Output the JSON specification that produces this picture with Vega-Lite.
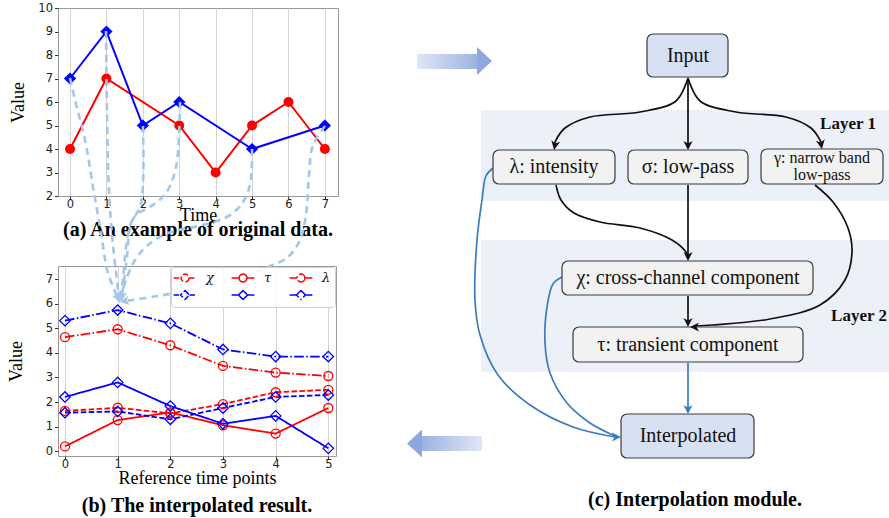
{
  "$schema": "https://vega.github.io/schema/vega-lite/v6.json",
  "autosize": {"type": "pad"},
  "padding": {"left": 6, "top": 1, "right": 0, "bottom": 0},
  "background": "white",
  "spacing": 64,
  "resolve": {"scale": {"color": "independent", "fill": "independent", "shape": "independent", "size": "independent", "strokeDash": "independent", "x": "independent", "y": "independent"}},
  "datasets": {
    "orig": [
      {"s": "s1", "t": 0, "v": 4}, {"s": "s1", "t": 1, "v": 7}, {"s": "s1", "t": 3, "v": 5}, {"s": "s1", "t": 4, "v": 3},
      {"s": "s1", "t": 5, "v": 5}, {"s": "s1", "t": 6, "v": 6}, {"s": "s1", "t": 7, "v": 4},
      {"s": "s2", "t": 0, "v": 7}, {"s": "s2", "t": 1, "v": 9}, {"s": "s2", "t": 2, "v": 5}, {"s": "s2", "t": 3, "v": 6},
      {"s": "s2", "t": 5, "v": 4}, {"s": "s2", "t": 7, "v": 5}
    ],
    "curves": [
      {"c": 1, "i": 0, "t": 0.095, "v": 15.169}, {"c": 1, "i": 1, "t": 0.19, "v": 14.275}, {"c": 1, "i": 2, "t": 0.38, "v": 12.65}, {"c": 1, "i": 3, "t": 0.532, "v": 10.74}, {"c": 1, "i": 4, "t": 0.684, "v": 8.871}, {"c": 1, "i": 5, "t": 0.816, "v": 7.246}, {"c": 1, "i": 6, "t": 1.006, "v": 6.23},
      {"c": 2, "i": 0, "t": 0.779, "v": 17.079}, {"c": 2, "i": 1, "t": 0.797, "v": 13.869}, {"c": 2, "i": 2, "t": 0.835, "v": 10.618}, {"c": 2, "i": 3, "t": 0.911, "v": 8.383}, {"c": 2, "i": 4, "t": 1.025, "v": 6.27},
      {"c": 3, "i": 0, "t": 1.481, "v": 13.219}, {"c": 3, "i": 1, "t": 1.481, "v": 10.903}, {"c": 3, "i": 2, "t": 1.424, "v": 9.927}, {"c": 3, "i": 3, "t": 1.253, "v": 9.277}, {"c": 3, "i": 4, "t": 1.158, "v": 8.302}, {"c": 3, "i": 5, "t": 1.101, "v": 6.961}, {"c": 3, "i": 6, "t": 1.044, "v": 6.27},
      {"c": 4, "i": 0, "t": 2.184, "v": 14.194}, {"c": 4, "i": 1, "t": 2.108, "v": 11.553}, {"c": 4, "i": 2, "t": 1.918, "v": 10.496}, {"c": 4, "i": 3, "t": 1.614, "v": 9.927}, {"c": 4, "i": 4, "t": 1.348, "v": 9.602}, {"c": 4, "i": 5, "t": 1.234, "v": 9.074}, {"c": 4, "i": 6, "t": 1.177, "v": 7.896}, {"c": 4, "i": 7, "t": 1.082, "v": 6.311},
      {"c": 5, "i": 0, "t": 3.551, "v": 12.284}, {"c": 5, "i": 1, "t": 3.513, "v": 10.821}, {"c": 5, "i": 2, "t": 3.342, "v": 10.009}, {"c": 5, "i": 3, "t": 3.038, "v": 9.48}, {"c": 5, "i": 4, "t": 2.526, "v": 9.155}, {"c": 5, "i": 5, "t": 1.956, "v": 8.871}, {"c": 5, "i": 6, "t": 1.576, "v": 8.383}, {"c": 5, "i": 7, "t": 1.329, "v": 7.774}, {"c": 5, "i": 8, "t": 1.158, "v": 6.961}, {"c": 5, "i": 9, "t": 1.063, "v": 6.311},
      {"c": 6, "i": 0, "t": 4.937, "v": 13.219}, {"c": 6, "i": 1, "t": 4.709, "v": 12.447}, {"c": 6, "i": 2, "t": 4.633, "v": 11.228}, {"c": 6, "i": 3, "t": 4.576, "v": 9.602}, {"c": 6, "i": 4, "t": 4.462, "v": 8.586}, {"c": 6, "i": 5, "t": 4.235, "v": 7.896}, {"c": 6, "i": 6, "t": 3.855, "v": 7.489}, {"c": 6, "i": 7, "t": 3.38, "v": 7.083}, {"c": 6, "i": 8, "t": 2.62, "v": 6.677}, {"c": 6, "i": 9, "t": 1.766, "v": 6.311}, {"c": 6, "i": 10, "t": 1.139, "v": 6.108}
    ],
    "heads": [
      {"t": 1.006, "v": 6.23, "rot": -22}, {"t": 1.025, "v": 6.27, "rot": -7}, {"t": 1.044, "v": 6.27, "rot": 10},
      {"t": 1.082, "v": 6.311, "rot": 7}, {"t": 1.063, "v": 6.311, "rot": 17}, {"t": 1.139, "v": 6.108, "rot": 80}
    ],
    "interp": [
      {"series": "χ", "t": 0, "v": 1.64}, {"series": "χ", "t": 1, "v": 1.77}, {"series": "χ", "t": 2, "v": 1.54}, {"series": "χ", "t": 3, "v": 1.92}, {"series": "χ", "t": 4, "v": 2.4}, {"series": "χ", "t": 5, "v": 2.5},
      {"series": "τ", "t": 0, "v": 0.2}, {"series": "τ", "t": 1, "v": 1.27}, {"series": "τ", "t": 2, "v": 1.58}, {"series": "τ", "t": 3, "v": 1.06}, {"series": "τ", "t": 4, "v": 0.72}, {"series": "τ", "t": 5, "v": 1.76},
      {"series": "λ", "t": 0, "v": 4.64}, {"series": "λ", "t": 1, "v": 4.96}, {"series": "λ", "t": 2, "v": 4.31}, {"series": "λ", "t": 3, "v": 3.47}, {"series": "λ", "t": 4, "v": 3.2}, {"series": "λ", "t": 5, "v": 3.06},
      {"series": "χb", "t": 0, "v": 1.57}, {"series": "χb", "t": 1, "v": 1.62}, {"series": "χb", "t": 2, "v": 1.3}, {"series": "χb", "t": 3, "v": 1.76}, {"series": "χb", "t": 4, "v": 2.21}, {"series": "χb", "t": 5, "v": 2.29},
      {"series": "τb", "t": 0, "v": 2.21}, {"series": "τb", "t": 1, "v": 2.8}, {"series": "τb", "t": 2, "v": 1.84}, {"series": "τb", "t": 3, "v": 1.12}, {"series": "τb", "t": 4, "v": 1.44}, {"series": "τb", "t": 5, "v": 0.12},
      {"series": "λb", "t": 0, "v": 5.31}, {"series": "λb", "t": 1, "v": 5.74}, {"series": "λb", "t": 2, "v": 5.2}, {"series": "λb", "t": 3, "v": 4.14}, {"series": "λb", "t": 4, "v": 3.85}, {"series": "λb", "t": 5, "v": 3.85}
    ],
    "bands": [
      {"x": 481, "x2": 892, "y": 110, "y2": 201},
      {"x": 481, "x2": 892, "y": 240, "y2": 372}
    ],
    "nodes": [
      {"name": "Input", "k": "io", "x": 647, "x2": 728, "y": 34, "y2": 77},
      {"name": "λ", "k": "op", "x": 493, "x2": 615, "y": 150, "y2": 184},
      {"name": "σ", "k": "op", "x": 628, "x2": 748, "y": 150, "y2": 184},
      {"name": "γ", "k": "op", "x": 761, "x2": 883, "y": 149, "y2": 184},
      {"name": "χ", "k": "op", "x": 562, "x2": 813, "y": 261, "y2": 295},
      {"name": "τ", "k": "op", "x": 573, "x2": 803, "y": 327, "y2": 362},
      {"name": "Interpolated", "k": "io", "x": 621, "x2": 754, "y": 414, "y2": 458}
    ],
    "labels": [
      {"text": "Input", "x": 688, "y": 56},
      {"text": "λ: intensity", "x": 554, "y": 167},
      {"text": "σ: low-pass", "x": 688, "y": 167},
      {"text": "χ: cross-channel component", "x": 688, "y": 278},
      {"text": "τ: transient component", "x": 688, "y": 345},
      {"text": "Interpolated", "x": 688, "y": 436}
    ],
    "small": [
      {"text": "γ: narrow band", "x": 822, "y": 158},
      {"text": "low-pass", "x": 822, "y": 175}
    ],
    "layers": [
      {"text": "Layer 1", "x": 848, "y": 124},
      {"text": "Layer 2", "x": 859, "y": 316}
    ],
    "edges": [
      {"e": 1, "k": "flow", "i": 0, "x": 688, "y": 78}, {"e": 1, "k": "flow", "i": 1, "x": 676, "y": 101}, {"e": 1, "k": "flow", "i": 2, "x": 640, "y": 112}, {"e": 1, "k": "flow", "i": 3, "x": 590, "y": 117}, {"e": 1, "k": "flow", "i": 4, "x": 565, "y": 128}, {"e": 1, "k": "flow", "i": 5, "x": 556, "y": 140}, {"e": 1, "k": "flow", "i": 6, "x": 554, "y": 146},
      {"e": 2, "k": "flow", "i": 0, "x": 688, "y": 78}, {"e": 2, "k": "flow", "i": 1, "x": 688, "y": 146},
      {"e": 3, "k": "flow", "i": 0, "x": 688, "y": 78}, {"e": 3, "k": "flow", "i": 1, "x": 700, "y": 101}, {"e": 3, "k": "flow", "i": 2, "x": 736, "y": 112}, {"e": 3, "k": "flow", "i": 3, "x": 786, "y": 117}, {"e": 3, "k": "flow", "i": 4, "x": 811, "y": 128}, {"e": 3, "k": "flow", "i": 5, "x": 820, "y": 140}, {"e": 3, "k": "flow", "i": 6, "x": 822, "y": 145},
      {"e": 4, "k": "flow", "i": 0, "x": 556, "y": 185}, {"e": 4, "k": "flow", "i": 1, "x": 561, "y": 200}, {"e": 4, "k": "flow", "i": 2, "x": 574, "y": 213}, {"e": 4, "k": "flow", "i": 3, "x": 600, "y": 222}, {"e": 4, "k": "flow", "i": 4, "x": 640, "y": 228}, {"e": 4, "k": "flow", "i": 5, "x": 672, "y": 240}, {"e": 4, "k": "flow", "i": 6, "x": 686, "y": 252}, {"e": 4, "k": "flow", "i": 7, "x": 688, "y": 257},
      {"e": 5, "k": "flow", "i": 0, "x": 688, "y": 185}, {"e": 5, "k": "flow", "i": 1, "x": 688, "y": 257},
      {"e": 6, "k": "flow", "i": 0, "x": 815, "y": 185}, {"e": 6, "k": "flow", "i": 1, "x": 833, "y": 202}, {"e": 6, "k": "flow", "i": 2, "x": 848, "y": 228}, {"e": 6, "k": "flow", "i": 3, "x": 852, "y": 252}, {"e": 6, "k": "flow", "i": 4, "x": 845, "y": 280}, {"e": 6, "k": "flow", "i": 5, "x": 820, "y": 305}, {"e": 6, "k": "flow", "i": 6, "x": 770, "y": 319}, {"e": 6, "k": "flow", "i": 7, "x": 712, "y": 325}, {"e": 6, "k": "flow", "i": 8, "x": 696, "y": 326},
      {"e": 7, "k": "flow", "i": 0, "x": 688, "y": 296}, {"e": 7, "k": "flow", "i": 1, "x": 688, "y": 322},
      {"e": 8, "k": "out", "i": 0, "x": 688, "y": 363}, {"e": 8, "k": "out", "i": 1, "x": 688, "y": 409},
      {"e": 9, "k": "out", "i": 0, "x": 493, "y": 168}, {"e": 9, "k": "out", "i": 1, "x": 486, "y": 176}, {"e": 9, "k": "out", "i": 2, "x": 482, "y": 200}, {"e": 9, "k": "out", "i": 3, "x": 477, "y": 240}, {"e": 9, "k": "out", "i": 4, "x": 475, "y": 300}, {"e": 9, "k": "out", "i": 5, "x": 480, "y": 335}, {"e": 9, "k": "out", "i": 6, "x": 498, "y": 375}, {"e": 9, "k": "out", "i": 7, "x": 530, "y": 405}, {"e": 9, "k": "out", "i": 8, "x": 573, "y": 427}, {"e": 9, "k": "out", "i": 9, "x": 615, "y": 437},
      {"e": 10, "k": "out", "i": 0, "x": 562, "y": 277}, {"e": 10, "k": "out", "i": 1, "x": 553, "y": 284}, {"e": 10, "k": "out", "i": 2, "x": 547, "y": 307}, {"e": 10, "k": "out", "i": 3, "x": 545, "y": 343}, {"e": 10, "k": "out", "i": 4, "x": 550, "y": 373}, {"e": 10, "k": "out", "i": 5, "x": 567, "y": 403}, {"e": 10, "k": "out", "i": 6, "x": 590, "y": 423}, {"e": 10, "k": "out", "i": 7, "x": 615, "y": 436}
    ],
    "tips": [
      {"k": "flow", "x": 555, "y": 145, "rot": 10},
      {"k": "flow", "x": 688, "y": 145, "rot": 0},
      {"k": "flow", "x": 821, "y": 144, "rot": -10},
      {"k": "flow", "x": 688, "y": 256, "rot": 0},
      {"k": "flow", "x": 688, "y": 322, "rot": 0},
      {"k": "flow", "x": 695, "y": 327, "rot": 90},
      {"k": "out", "x": 688, "y": 409, "rot": 0},
      {"k": "out", "x": 616, "y": 437, "rot": -90}
    ]
  },
  "hconcat": [
    {
      "vconcat": [
        {
          "width": 280,
          "height": 188,
          "view": {"stroke": "#999999", "strokeWidth": 1},
          "title": {"text": "(a) An example of original data.", "orient": "bottom", "offset": -5},
          "encoding": {
            "x": {"field": "t", "type": "quantitative", "scale": {"domain": [-0.33, 7.36], "nice": false, "zero": false},
                  "axis": {"values": [0, 1, 2, 3, 4, 5, 6, 7], "title": "Time", "titleFontSize": 18, "titlePadding": -3, "grid": true, "tickSize": 3, "labelPadding": -1, "labelOverlap": false}},
            "y": {"field": "v", "type": "quantitative", "scale": {"domain": [2, 10], "nice": false, "zero": false},
                  "axis": {"values": [2, 3, 4, 5, 6, 7, 8, 9, 10], "title": "Value", "titleFontSize": 18, "titlePadding": 10, "grid": false, "labelOverlap": false}}
          },
          "layer": [
            {
              "data": {"values": [{"v": 4.5}, {"v": 7.5}]},
              "mark": {"type": "rule", "color": "#d4d4d4", "strokeWidth": 1},
              "encoding": {
                "x": {"datum": -0.33, "type": "quantitative",
                      "axis": {"values": [0, 1, 2, 3, 4, 5, 6, 7], "title": "Time", "titleFontSize": 18, "titlePadding": -3, "grid": true, "tickSize": 3, "labelPadding": -1, "labelOverlap": false}},
                "x2": {"datum": 7.36}
              }
            },
            {
              "data": {"name": "orig"},
              "mark": {"type": "line", "strokeWidth": 2},
              "encoding": {
                "color": {"field": "s", "type": "nominal", "scale": {"domain": ["s1", "s2"], "range": ["#ff0000", "#0000ff"]}, "legend": null}
              }
            },
            {
              "data": {"name": "orig"},
              "transform": [{"filter": "datum.s == 's1'"}],
              "mark": {"type": "point", "filled": true, "opacity": 1, "shape": "circle", "size": 100},
              "encoding": {"color": {"field": "s", "type": "nominal", "legend": null}}
            },
            {
              "data": {"name": "orig"},
              "transform": [{"filter": "datum.s == 's2'"}],
              "mark": {"type": "point", "filled": true, "opacity": 1, "shape": "diamond", "size": 150},
              "encoding": {"color": {"field": "s", "type": "nominal", "legend": null}}
            }
          ]
        },
        {
          "width": 278,
          "height": 190,
          "view": {"stroke": "#999999", "strokeWidth": 1},
          "title": {"text": "(b) The interpolated result.", "orient": "bottom", "offset": 8},
          "encoding": {
            "x": {"field": "t", "type": "quantitative", "scale": {"domain": [-0.133, 5.146], "nice": false, "zero": false},
                  "axis": {"values": [0, 1, 2, 3, 4, 5], "title": "Reference time points", "titleFontSize": 18, "titlePadding": 0, "grid": true, "tickSize": 3, "labelPadding": -1, "labelOverlap": false}},
            "y": {"field": "v", "type": "quantitative", "scale": {"domain": [-0.19, 7.53], "nice": false, "zero": false},
                  "axis": {"values": [0, 1, 2, 3, 4, 5, 6, 7], "title": "Value", "titleFontSize": 18, "titlePadding": 20, "grid": false, "labelOverlap": false}}
          },
          "layer": [
            {
              "data": {"values": [{"v": 4.5}]},
              "mark": {"type": "rule", "color": "#d4d4d4", "strokeWidth": 1},
              "encoding": {
                "x": {"datum": -0.133, "type": "quantitative",
                      "axis": {"values": [0, 1, 2, 3, 4, 5], "title": "Reference time points", "titleFontSize": 18, "titlePadding": 0, "grid": true, "tickSize": 3, "labelPadding": -1, "labelOverlap": false}},
                "x2": {"datum": 5.146}
              }
            },
            {
              "data": {"name": "interp"},
              "mark": {"type": "line", "strokeWidth": 1.8},
              "encoding": {
                "color": {"field": "series", "type": "nominal",
                          "scale": {"domain": ["χ", "τ", "λ", "χb", "τb", "λb"], "range": ["#ff0000", "#ff0000", "#ff0000", "#0000ff", "#0000ff", "#0000ff"]},
                          "legend": {"orient": "top-right", "offset": 1, "columns": 3, "direction": "horizontal", "title": null,
                                     "labelExpr": "length(datum.value) > 1 ? '' : datum.value",
                                     "symbolType": "M-1.9,0L-0.65,0M0.65,0L1.9,0M0.65,0A0.65,0.65,0,1,1,-0.65,0A0.65,0.65,0,1,1,0.65,0",
                                     "symbolSize": 144, "symbolStrokeWidth": 1.5, "symbolFillColor": "transparent",
                                     "labelOffset": 14, "symbolOffset": 3, "columnPadding": 14, "rowPadding": 2, "padding": 4,
                                     "fillColor": "rgba(255,255,255,0.85)", "strokeColor": "#d0d0d0", "cornerRadius": 3,
                                     "labelFont": "DejaVu Serif", "labelFontStyle": "italic", "labelFontSize": 13, "labelColor": "#111",
                                     "encode": {"symbols": {"update": {"shape": {"signal": "length(datum.value) > 1 ? 'M-1.9,0L-0.75,0M0.75,0L1.9,0M0,-0.75L0.75,0L0,0.75L-0.75,0Z' : 'M-1.9,0L-0.65,0M0.65,0L1.9,0M0.65,0A0.65,0.65,0,1,1,-0.65,0A0.65,0.65,0,1,1,0.65,0'"}}}}}},
                "strokeDash": {"field": "series", "type": "nominal",
                               "scale": {"domain": ["χ", "τ", "λ", "χb", "τb", "λb"], "range": [[5.5, 2.4], [1, 0], [9.6, 2.4, 1.5, 2.4], [5.5, 2.4], [1, 0], [9.6, 2.4, 1.5, 2.4]]}}
              }
            },
            {
              "data": {"name": "interp"},
              "transform": [{"filter": "length(datum.series) == 1"}],
              "mark": {"type": "point", "filled": false, "strokeWidth": 1.3, "opacity": 1, "shape": "circle", "size": 81},
              "encoding": {"color": {"field": "series", "type": "nominal"}}
            },
            {
              "data": {"name": "interp"},
              "transform": [{"filter": "length(datum.series) > 1"}],
              "mark": {"type": "point", "filled": false, "strokeWidth": 1.3, "opacity": 1, "shape": "diamond", "size": 110},
              "encoding": {"color": {"field": "series", "type": "nominal"}}
            },
            {
              "data": {"name": "curves"},
              "mark": {"type": "line", "strokeDash": [7, 5], "strokeWidth": 2.6, "color": "#a2c7ea", "interpolate": "catmull-rom", "clip": false},
              "encoding": {
                "detail": {"field": "c", "type": "nominal"},
                "order": {"field": "i", "type": "quantitative"}
              }
            },
            {
              "data": {"name": "heads"},
              "mark": {"type": "point", "filled": true, "color": "#a2c7ea", "opacity": 1, "size": 110, "shape": "M0,1L-0.9,-0.8L0,-0.3L0.9,-0.8Z", "clip": false},
              "encoding": {
                "angle": {"field": "rot", "type": "quantitative", "scale": null}
              }
            }
          ]
        }
      ],
      "spacing": 70,
      "bounds": "flush",
      "resolve": {"scale": {"color": "independent", "shape": "independent", "size": "independent", "strokeDash": "independent", "x": "independent", "y": "independent"}}
    },
    {
      "width": 489,
      "height": 517,
      "view": {"stroke": null},
      "encoding": {
        "x": {"field": "x", "type": "quantitative", "scale": {"domain": [403, 892], "nice": false, "zero": false}, "axis": null},
        "y": {"field": "y", "type": "quantitative", "scale": {"domain": [8, 525], "reverse": true, "nice": false, "zero": false}, "axis": null}
      },
      "layer": [
        {
          "data": {"name": "bands"},
          "mark": {"type": "rect", "color": "#ecf0f8"},
          "encoding": {"x2": {"field": "x2"}, "y2": {"field": "y2"}}
        },
        {
          "data": {"name": "edges"},
          "mark": {"type": "line", "strokeWidth": 1.7, "interpolate": "catmull-rom"},
          "encoding": {
            "detail": {"field": "e", "type": "nominal"},
            "order": {"field": "i", "type": "quantitative"},
            "color": {"field": "k", "type": "nominal", "scale": {"domain": ["flow", "out"], "range": ["#111111", "#3a7cc0"]}, "legend": null}
          }
        },
        {
          "data": {"name": "nodes"},
          "mark": {"type": "rect", "cornerRadius": 6, "stroke": "#3a3a3a", "strokeWidth": 1.2},
          "encoding": {
            "x2": {"field": "x2"},
            "y2": {"field": "y2"},
            "fill": {"field": "k", "type": "nominal", "scale": {"domain": ["io", "op"], "range": ["#d8e1f2", "#f2f2f2"]}, "legend": null}
          }
        },
        {
          "data": {"name": "labels"},
          "mark": {"type": "text", "font": "Liberation Serif", "fontSize": 20, "color": "#111", "baseline": "middle", "align": "center"},
          "encoding": {"text": {"field": "text"}}
        },
        {
          "data": {"name": "small"},
          "mark": {"type": "text", "font": "Liberation Serif", "fontSize": 16, "color": "#111", "baseline": "middle", "align": "center"},
          "encoding": {"text": {"field": "text"}}
        },
        {
          "data": {"name": "layers"},
          "mark": {"type": "text", "font": "Liberation Serif", "fontSize": 17, "fontWeight": "bold", "color": "#111", "baseline": "middle", "align": "center"},
          "encoding": {"text": {"field": "text"}}
        },
        {
          "data": {"values": [{"text": "(c) Interpolation module.", "x": 695, "y": 500}]},
          "mark": {"type": "text", "font": "Liberation Serif", "fontSize": 20, "fontWeight": "bold", "color": "#000", "baseline": "middle", "align": "center"},
          "encoding": {"text": {"field": "text"}}
        },
        {
          "data": {"name": "tips"},
          "mark": {"type": "point", "filled": true, "opacity": 1, "size": 100, "shape": "M0,1L-0.9,-0.8L0,-0.3L0.9,-0.8Z"},
          "encoding": {
            "angle": {"field": "rot", "type": "quantitative", "scale": null},
            "color": {"field": "k", "type": "nominal", "legend": null}
          }
        },
        {
          "data": {"values": [{"x": 417, "x2": 478, "y": 54, "y2": 69}]},
          "mark": {"type": "rect", "fill": {"gradient": "linear", "x1": 0, "y1": 0, "x2": 1, "y2": 0, "stops": [{"offset": 0, "color": "#e0e7f5"}, {"offset": 1, "color": "#9cb1e2"}]}},
          "encoding": {"x2": {"field": "x2"}, "y2": {"field": "y2"}}
        },
        {
          "data": {"values": [{"x": 421, "x2": 482, "y": 436, "y2": 451}]},
          "mark": {"type": "rect", "fill": {"gradient": "linear", "x1": 0, "y1": 0, "x2": 1, "y2": 0, "stops": [{"offset": 0, "color": "#9cb1e2"}, {"offset": 1, "color": "#e0e7f5"}]}},
          "encoding": {"x2": {"field": "x2"}, "y2": {"field": "y2"}}
        },
        {
          "data": {"values": [{"x": 484.5, "y": 61}]},
          "mark": {"type": "point", "filled": true, "opacity": 1, "color": "#8fa7de", "size": 225, "shape": "M-1,-1.87L1,0L-1,1.87Z"}
        },
        {
          "data": {"values": [{"x": 414.5, "y": 443.5}]},
          "mark": {"type": "point", "filled": true, "opacity": 1, "color": "#8fa7de", "size": 225, "shape": "M1,-1.87L-1,0L1,1.87Z"}
        }
      ]
    }
  ],
  "config": {
    "view": {"stroke": null},
    "axis": {"labelFont": "DejaVu Sans", "labelFontSize": 11.5, "labelColor": "#222222", "titleFont": "Liberation Serif", "titleFontWeight": "normal", "titleColor": "#000000", "tickColor": "#333333", "tickSize": 3.5, "domain": false, "gridColor": "#d4d4d4", "gridWidth": 1},
    "title": {"font": "Liberation Serif", "fontWeight": "bold", "fontSize": 20, "color": "#000000"}
  }
}
